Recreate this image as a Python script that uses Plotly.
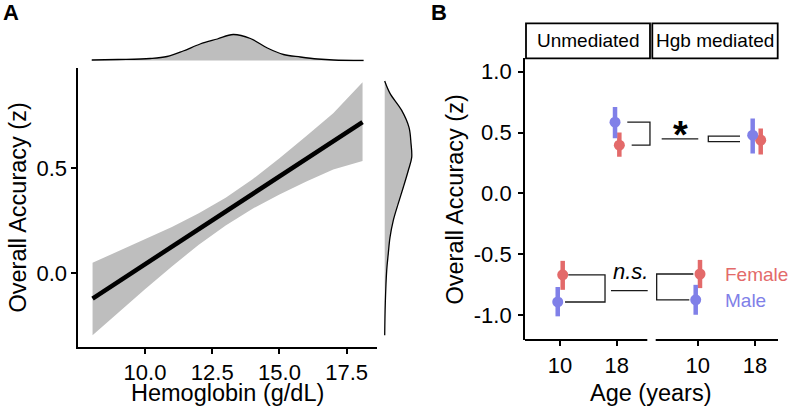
import plotly.graph_objects as go

W, H = 788, 409
FONT = "Liberation Sans"
FEMALE = "#E36A6A"
MALE = "#8080E8"
BAND = "#BEBEBE"

# ---- Panel A: accuracy vs hemoglobin ----
fit_x = [8.05, 18.09]
fit_y = [-0.12, 0.72]

ci_x = [8.05, 9, 10, 11, 12, 13, 14, 15, 16, 17, 18.09]
ci_upper = [0.05, 0.105, 0.162, 0.221, 0.286, 0.36, 0.448, 0.548, 0.654, 0.763, 0.91]
ci_lower = [-0.295, -0.186, -0.076, 0.033, 0.136, 0.228, 0.308, 0.376, 0.437, 0.494, 0.535]

# marginal densities
hgb_grid = [8.02, 9.0, 10.19, 10.82, 11.42, 12.05, 12.69, 13.28, 13.92, 14.55, 15.15, 15.78, 16.42, 17.01, 18.13]
hgb_density = [0.005, 0.01, 0.02, 0.04, 0.095, 0.165, 0.215, 0.26, 0.22, 0.125, 0.06, 0.035, 0.015, 0.005, 0.0]

acc_grid = [0.916, 0.857, 0.776, 0.695, 0.619, 0.552, 0.490, 0.410, 0.333, 0.252, 0.171, 0.095, 0.014, -0.143, -0.295]
acc_density = [0.0, 0.053, 0.17, 0.243, 0.263, 0.27, 0.236, 0.186, 0.136, 0.086, 0.053, 0.036, 0.02, 0.006, 0.0]

# ---- Panel B: estimated accuracy by age and sex ----
ages = [10, 18]
female_unmed = [-0.67, 0.396]
female_unmed_lo = [-0.793, 0.30]
female_unmed_hi = [-0.555, 0.50]
male_unmed = [-0.893, 0.585]
male_unmed_lo = [-1.011, 0.452]
male_unmed_hi = [-0.770, 0.71]

female_med = [-0.663, 0.437]
female_med_lo = [-0.779, 0.32]
female_med_hi = [-0.547, 0.533]
male_med = [-0.875, 0.478]
male_med_lo = [-0.998, 0.328]
male_med_hi = [-0.752, 0.615]

# horizontal dodge of the points (axis units)
DODGE = {
    ("F", "unmed"): [0.38, 0.37],
    ("M", "unmed"): [-0.32, -0.24],
    ("F", "med"): [0.32, 0.80],
    ("M", "med"): [-0.28, -0.32],
}


def fx(px):
    return px / W


def fy(py):
    return 1 - py / H


fig = go.Figure()

# ribbon + fit line
fig.add_trace(go.Scatter(x=ci_x, y=ci_lower, mode="lines", line=dict(width=0),
                         xaxis="x", yaxis="y", hoverinfo="skip"))
fig.add_trace(go.Scatter(x=ci_x, y=ci_upper, mode="lines", line=dict(width=0),
                         fill="tonexty", fillcolor=BAND, xaxis="x", yaxis="y"))
fig.add_trace(go.Scatter(x=fit_x, y=fit_y, mode="lines",
                         line=dict(color="black", width=4.5), xaxis="x", yaxis="y"))

# marginal densities
fig.add_trace(go.Scatter(x=hgb_grid, y=hgb_density, mode="lines", fill="tozeroy",
                         fillcolor=BAND, line=dict(color="black", width=1.3, shape="spline"),
                         xaxis="x2", yaxis="y2"))
fig.add_trace(go.Scatter(x=acc_density, y=acc_grid, mode="lines", fill="tozerox",
                         fillcolor=BAND, line=dict(color="black", width=1.3, shape="spline"),
                         xaxis="x3", yaxis="y3"))


def add_group(means, lo, hi, color, offs, xa, ya):
    xs = [a + o for a, o in zip(ages, offs)]
    fig.add_trace(go.Scatter(
        x=xs, y=means, mode="markers",
        marker=dict(color=color, size=11),
        error_y=dict(type="data", symmetric=False,
                     array=[h - m for h, m in zip(hi, means)],
                     arrayminus=[m - l for m, l in zip(means, lo)],
                     color=color, thickness=4.5, width=0),
        xaxis=xa, yaxis=ya,
    ))


add_group(female_unmed, female_unmed_lo, female_unmed_hi, FEMALE, DODGE[("F", "unmed")], "x4", "y4")
add_group(male_unmed, male_unmed_lo, male_unmed_hi, MALE, DODGE[("M", "unmed")], "x4", "y4")
add_group(female_med, female_med_lo, female_med_hi, FEMALE, DODGE[("F", "med")], "x5", "y5")
add_group(male_med, male_med_lo, male_med_hi, MALE, DODGE[("M", "med")], "x5", "y5")

# comparison brackets
BR = dict(color="#1a1a1a", width=1.3)
fig.add_trace(go.Scatter(
    x=[19.49, 22.69, 22.69, 20.11, None, 11.17, 16.35, 16.35, 10.71, None, 17.19, 22.37],
    y=[male_unmed[1], male_unmed[1], female_unmed[1], female_unmed[1], None,
       female_unmed[0], female_unmed[0], male_unmed[0], male_unmed[0], None, -0.80, -0.80],
    mode="lines", line=BR, xaxis="x4", yaxis="y4"))
fig.add_trace(go.Scatter(
    x=[9.39, 4.27, 4.27, 8.83, None, 4.97, 10.08, None, 15.91, 11.48, 11.48, 15.91],
    y=[female_med[0], female_med[0], male_med[0], male_med[0], None, 0.447, 0.447, None,
       0.470, 0.470, 0.425, 0.425],
    mode="lines", line=BR, xaxis="x5", yaxis="y5"))

tickfont = dict(family=FONT, size=22, color="black")
axis_common = dict(showgrid=False, zeroline=False, ticks="outside", ticklen=5, tickwidth=1.5,
                   tickcolor="black", linecolor="black", linewidth=1.8, tickfont=tickfont,
                   automargin=False)
hidden = dict(visible=False, showgrid=False, zeroline=False)

fig.update_layout(
    width=W, height=H, margin=dict(l=0, r=0, t=0, b=0),
    paper_bgcolor="white", plot_bgcolor="white", showlegend=False,
    font=dict(family=FONT, color="black"),
    xaxis=dict(axis_common, domain=[fx(78.3), fx(376.7)], range=[7.52, 18.616],
               tickvals=[10, 12.5, 15, 17.5], ticktext=["10.0", "12.5", "15.0", "17.5"],
               showline=True, anchor="y"),
    yaxis=dict(axis_common, domain=[fy(347), fy(68)], range=[-0.351, 0.978],
               tickvals=[0, 0.5], ticktext=["0.0", "0.5"], showline=True, anchor="x"),
    xaxis2=dict(hidden, matches="x", domain=[fx(78.3), fx(376.7)], anchor="y2"),
    yaxis2=dict(hidden, domain=[fy(61.5), fy(31.5)], range=[-0.01, 0.29], anchor="x2"),
    xaxis3=dict(hidden, domain=[fx(383.7), fx(413.7)], range=[-0.01, 0.29], anchor="y3"),
    yaxis3=dict(hidden, matches="y", domain=[fy(347), fy(68)], anchor="x3"),
    xaxis4=dict(axis_common, domain=[fx(525), fx(652)], range=[5.063, 22.976],
                tickvals=ages, showline=False, anchor="y4", ticklabelstandoff=1),
    yaxis4=dict(axis_common, domain=[fy(340), fy(58.3)], range=[-1.2055, 1.110],
                tickvals=[-1, -0.5, 0, 0.5, 1], ticktext=["-1.0", "-0.5", "0.0", "0.5", "1.0"],
                showline=True, anchor="x4", ticklabelstandoff=2),
    xaxis5=dict(axis_common, domain=[fx(653), fx(778)], range=[3.757, 21.215],
                tickvals=ages, showline=False, anchor="y5", ticklabelstandoff=1),
    yaxis5=dict(hidden, matches="y4", domain=[fy(340), fy(58.3)], anchor="x5"),
)

# x axis lines of the faceted panel and strip boxes
shapes = [
    dict(type="line", xref="paper", yref="paper", x0=fx(525), x1=fx(647.3), y0=fy(340), y1=fy(340),
         line=dict(color="black", width=1.8)),
    dict(type="line", xref="paper", yref="paper", x0=fx(655.7), x1=fx(778), y0=fy(340), y1=fy(340),
         line=dict(color="black", width=1.8)),
    dict(type="rect", xref="paper", yref="paper", x0=fx(526), x1=fx(650), y0=fy(58.3), y1=fy(23.3),
         line=dict(color="black", width=1.8)),
    dict(type="rect", xref="paper", yref="paper", x0=fx(652.3), x1=fx(777.7), y0=fy(58.3), y1=fy(23.3),
         line=dict(color="black", width=1.8)),
]
fig.update_layout(shapes=shapes)


def note(text, px, py, size, **kw):
    base = dict(text=text, x=fx(px), y=fy(py), xref="paper", yref="paper", showarrow=False,
                xanchor="center", yanchor="middle", font=dict(family=FONT, size=size, color="black"))
    base.update(kw)
    fig.add_annotation(**base)


note("<b>A</b>", 10.5, 12, 22)
note("<b>B</b>", 439, 12, 22)
note("Overall Accuracy (z)", 17, 207.5, 23.5, textangle=-90)
note("Hemoglobin (g/dL)", 227, 393, 23.5)
note("Overall Accuracy (z)", 454, 199.5, 23.5, textangle=-90)
note("Age (years)", 650, 393, 23.5)
note("Unmediated", 588, 41, 19)
note("Hgb mediated", 715, 41, 19)
note("<b>*</b>", 680, 135, 38)
note("<i>n.s.</i>", 630, 271.7, 22)
note("Female", 723.3, 274, 19, xanchor="left", font=dict(family=FONT, size=19, color=FEMALE))
note("Male", 723.3, 300, 19, xanchor="left", font=dict(family=FONT, size=19, color=MALE))

# the page's default body margin would shift the whole figure by 8 px
fig.write_html("out.html", config={"displayModeBar": False},
               post_script="document.body.style.margin='0';")
